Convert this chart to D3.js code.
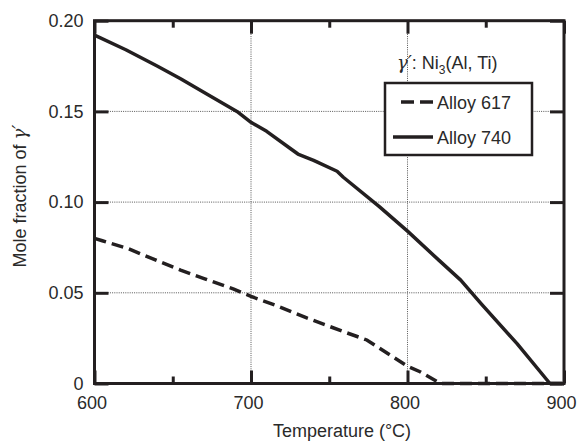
<!DOCTYPE html>
<html>
<head>
<meta charset="utf-8">
<script src="https://cdn.jsdelivr.net/npm/d3@7"></script>
<style>
  body { margin: 0; background: #fff; }
  text { font-family: "Liberation Sans", Arial, sans-serif; fill: #2a2a2a; }
  .greek { font-family: "DejaVu Serif", "Liberation Serif", serif; font-style: italic; }
</style>
</head>
<body>
<svg id="chart"></svg>
<script>
// Data
const temps740 = [600, 620, 640, 655, 672, 691, 700, 710, 726, 730, 740, 755, 759, 782, 800, 820, 834, 847, 870, 891, 900];
const frac740 = [0.192, 0.184, 0.175, 0.168, 0.1595, 0.150, 0.144, 0.139, 0.129, 0.1265, 0.123, 0.117, 0.1137, 0.0975, 0.084, 0.068, 0.057, 0.044, 0.022, 0, 0];

const temps617 = [600, 605, 621, 642, 655, 670, 689, 700, 717, 736, 761, 774, 800, 808, 821, 900];
const frac617 = [0.080, 0.0787, 0.0745, 0.067, 0.0625, 0.0578, 0.052, 0.048, 0.0427, 0.036, 0.028, 0.024, 0.0095, 0.0065, 0, 0];

const xMajor = [600, 700, 800, 900];
const xMinor = [650, 750, 850];
const yMajor = [0, 0.05, 0.10, 0.15, 0.20];
const yLabels = ["0", "0.05", "0.10", "0.15", "0.20"];
const xGrid = [700, 800];
const yGrid = [0.05, 0.10, 0.15];

const seriesNames = ["Alloy 617", "Alloy 740"];

const W = 577, H = 443;
const margin = { top: 20.7, right: 13, bottom: 59.5, left: 94.5 };
const width = W - margin.left - margin.right;
const height = H - margin.top - margin.bottom;
const ink = "#231f20";

const svg = d3.select("#chart").attr("width", W).attr("height", H);
const chart = svg.append("g").attr("transform", `translate(${margin.left},${margin.top})`);

const x = d3.scaleLinear().domain([600, 900]).range([0, width]);
const y = d3.scaleLinear().domain([0, 0.2]).range([height, 0]);

// dotted grid
chart.append("g").selectAll("line").data(xGrid).join("line")
  .attr("x1", d => x(d)).attr("x2", d => x(d))
  .attr("y1", 0).attr("y2", height)
  .attr("stroke", "#555").attr("stroke-width", 1).attr("stroke-dasharray", "1,1.2");
chart.append("g").selectAll("line").data(yGrid).join("line")
  .attr("y1", d => y(d)).attr("y2", d => y(d))
  .attr("x1", 0).attr("x2", width)
  .attr("stroke", "#555").attr("stroke-width", 1).attr("stroke-dasharray", "1,1.2");

// curves
const line = d3.line().x(d => x(d[0])).y(d => y(d[1]));
chart.append("path")
  .datum(d3.zip(temps740, frac740))
  .attr("d", line).attr("fill", "none")
  .attr("stroke", ink).attr("stroke-width", 3.5).attr("stroke-linejoin", "round");
chart.append("path")
  .datum(d3.zip(temps617, frac617))
  .attr("d", line).attr("fill", "none")
  .attr("stroke", ink).attr("stroke-width", 3.5).attr("stroke-dasharray", "12,6");

// axes with inward ticks
function styleAxis(g) {
  g.select(".domain").remove();
  g.selectAll(".tick line").attr("stroke", ink).attr("stroke-width", 3);
  g.selectAll(".tick text").attr("font-size", 18).attr("fill", "#2a2a2a")
    .attr("font-family", "Liberation Sans, Arial, sans-serif");
}

chart.append("g").attr("transform", `translate(0,${height})`)
  .call(d3.axisBottom(x).tickValues(xMajor).tickSize(-13).tickPadding(13).tickFormat(d3.format("d")))
  .call(styleAxis)
  .call(g => g.selectAll(".tick text").attr("dx", -3));
chart.append("g").attr("transform", `translate(0,${height})`)
  .call(d3.axisBottom(x).tickValues(xMinor).tickSize(-7).tickFormat(""))
  .call(styleAxis);
chart.append("g")
  .call(d3.axisTop(x).tickValues(xMajor).tickSize(-13).tickFormat(""))
  .call(styleAxis);
chart.append("g")
  .call(d3.axisTop(x).tickValues(xMinor).tickSize(-7).tickFormat(""))
  .call(styleAxis);
chart.append("g")
  .call(d3.axisLeft(y).tickValues(yMajor).tickSize(-14).tickPadding(11).tickFormat((d, i) => yLabels[i]))
  .call(styleAxis);
chart.append("g").attr("transform", `translate(${width},0)`)
  .call(d3.axisRight(y).tickValues(yMajor).tickSize(-14).tickFormat(""))
  .call(styleAxis);

// frame
chart.append("rect")
  .attr("width", width).attr("height", height)
  .attr("fill", "none").attr("stroke", ink).attr("stroke-width", 3);

// axis titles
svg.append("text")
  .attr("x", 342).attr("y", 437)
  .attr("text-anchor", "middle").attr("font-size", 18)
  .text("Temperature (°C)");

const yt = svg.append("text")
  .attr("transform", "translate(26,196) rotate(-90)")
  .attr("text-anchor", "middle").attr("font-size", 18);
yt.append("tspan").text("Mole fraction of ");
yt.append("tspan").attr("class", "greek").text("γ′");

// legend
const legend = svg.append("g");
const lt = legend.append("text").attr("x", 397).attr("y", 69).attr("font-size", 18);
lt.append("tspan").attr("class", "greek").text("γ′");
lt.append("tspan").text(": Ni");
lt.append("tspan").attr("font-size", 12).attr("dy", 5).text("3");
lt.append("tspan").attr("dy", -5).text("(Al, Ti)");

legend.append("rect")
  .attr("x", 385).attr("y", 83).attr("width", 147).attr("height", 72)
  .attr("fill", "#fff").attr("stroke", ink).attr("stroke-width", 2.5);

const rows = legend.selectAll(".row").data(seriesNames).join("g")
  .attr("class", "row")
  .attr("transform", (d, i) => `translate(0,${102 + i * 35})`);
rows.append("line")
  .attr("x1", (d, i) => i === 0 ? 401 : 393).attr("x2", 433)
  .attr("stroke", ink).attr("stroke-width", 3.5)
  .attr("stroke-dasharray", (d, i) => i === 0 ? "13,6" : null);
rows.append("text")
  .attr("x", 437).attr("y", 6.5).attr("font-size", 18)
  .text(d => d);
</script>
</body>
</html>
